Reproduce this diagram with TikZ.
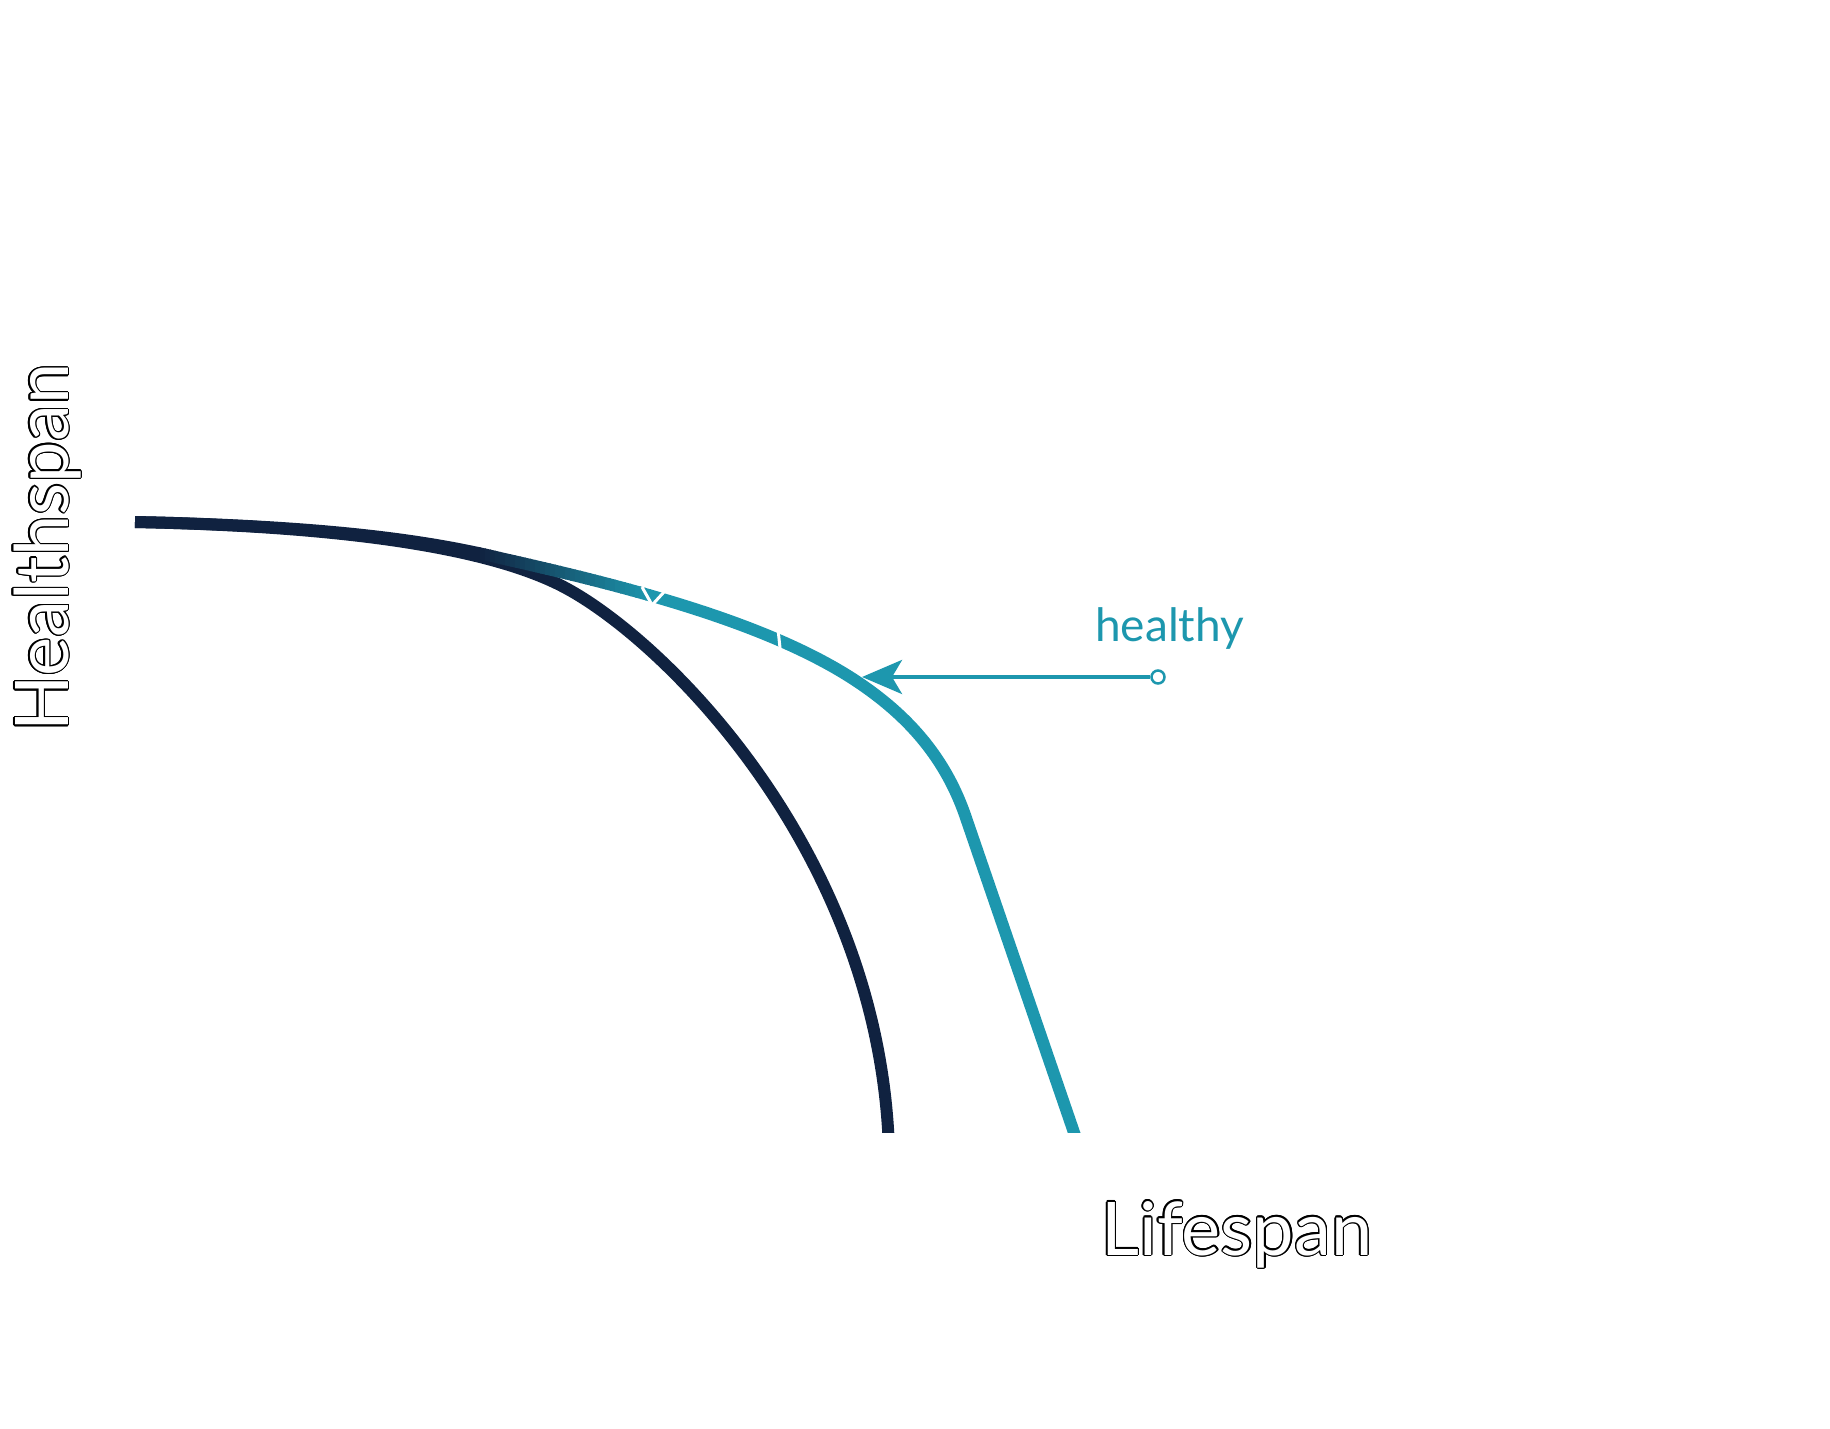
\documentclass[tikz,border=0pt]{standalone}
\usepackage{fontspec}
\setmainfont{Lato}
\usepackage{contour}
\contourlength{1.3pt}
\usetikzlibrary{arrows.meta}
\definecolor{navy}{RGB}{16,34,64}
\definecolor{tealc}{RGB}{29,151,174}
\tikzset{
  curvestroke/.style={line width=12pt, line cap=butt, line join=round},
  darkcurve/.style={insert path={(135,522) .. controls (330,526) and (480,545) .. (560,585) .. controls (660,635) and (880,850) .. (889,1150)}},
  healthycurve/.style={insert path={(135,522) .. controls (330,526) and (430,541) .. (500,558) .. controls (620,585) and (760,620) .. (850,677) .. controls (905,712) and (944,755) .. (965,815) -- (1080,1150)}},
  gapline/.style={white, line width=3pt},
  outlinelabel/.style={font=\fontsize{74}{86}\selectfont, inner sep=0pt},
  pointer/.style={tealc, line width=4pt, -{Stealth[length=40pt, width=34pt, inset=10pt]}},
  dotnode/.style={circle, draw=tealc, fill=white, line width=2.5pt, minimum size=13pt, inner sep=0pt}
}
\begin{document}
\begin{tikzpicture}[x=1pt, y=-1pt]
\useasboundingbox (0,0) rectangle (1830,1428);
% clip the bottom ends flat
\begin{scope}
  \clip (0,0) rectangle (1830,1132);
  \draw[curvestroke, navy, darkcurve];
  % healthy curve: navy part
  \begin{scope}
    \clip (0,0) rectangle (481,1132);
    \draw[curvestroke, navy, healthycurve];
  \end{scope}
  % gradient part
  \foreach \i in {0,...,33}{
    \pgfmathsetmacro{\xa}{480+5*\i}
    \pgfmathsetmacro{\xb}{\xa+6}
    \pgfmathsetmacro{\pc}{100*(\i+0.5)/34}
    \begin{scope}
      \clip (\xa,0) rectangle (\xb,1132);
      \draw[curvestroke, tealc!\pc!navy, healthycurve];
    \end{scope}
  }
  \begin{scope}
    \clip (650,0) rectangle (1830,1132);
    \draw[curvestroke, tealc, healthycurve];
  \end{scope}
\end{scope}
% small white breaks in the healthy curve
\coordinate (g1a) at (642,587);
\coordinate (g1b) at (651,603);
\coordinate (g1c) at (664,592);
\coordinate (g1d) at (653,604);
\coordinate (g2a) at (778,629);
\coordinate (g2b) at (780,648);
\draw[gapline] (g1a) -- (g1b);
\draw[gapline] (g1c) -- (g1d);
\draw[gapline] (g2a) -- (g2b);
% labels
\node[outlinelabel, anchor=base west] (life) at (1101,1255) {\color{white}\contour{black}{Lifespan}};
\node[outlinelabel, anchor=base west, rotate=90] (health) at (68,732) {\color{white}\contour{black}{Healthspan}};
\node[font=\fontsize{46}{55}\selectfont, text=tealc, inner sep=0pt, anchor=base west] (healthy) at (1095,641) {healthy};
% pointer
\coordinate (tip) at (862,677);
\node[dotnode] (dot) at (1158,677) {};
\draw[pointer] (dot) -- (tip);
\end{tikzpicture}
\end{document}
